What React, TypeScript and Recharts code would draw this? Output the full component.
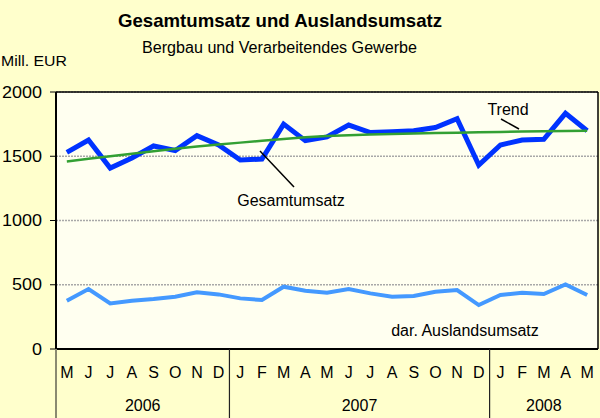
import React from 'react';
import { LineChart, Line, XAxis, YAxis, CartesianGrid, ReferenceLine } from 'recharts';

const months = [
  '2006-05', '2006-06', '2006-07', '2006-08', '2006-09', '2006-10', '2006-11', '2006-12',
  '2007-01', '2007-02', '2007-03', '2007-04', '2007-05', '2007-06', '2007-07', '2007-08',
  '2007-09', '2007-10', '2007-11', '2007-12',
  '2008-01', '2008-02', '2008-03', '2008-04', '2008-05',
];
const monthLetters = ['M', 'J', 'J', 'A', 'S', 'O', 'N', 'D', 'J', 'F', 'M', 'A', 'M', 'J', 'J', 'A', 'S', 'O', 'N', 'D', 'J', 'F', 'M', 'A', 'M'];
const yearOfMonth = ['2006', '2006', '2006', '2006', '2006', '2006', '2006', '2006',
  '2007', '2007', '2007', '2007', '2007', '2007', '2007', '2007', '2007', '2007', '2007', '2007',
  '2008', '2008', '2008', '2008', '2008'];
const gesamtumsatz = [1530, 1626, 1408, 1487, 1580, 1545, 1660, 1588, 1471, 1478, 1750, 1621, 1650, 1743, 1684, 1691, 1699, 1724, 1793, 1432, 1588, 1626, 1632, 1834, 1699];
const auslandsumsatz = [376, 467, 355, 376, 389, 407, 441, 425, 394, 381, 485, 454, 438, 467, 433, 407, 412, 446, 459, 342, 420, 438, 428, 503, 420];
const trend = [1460, 1480, 1500, 1520, 1539, 1558, 1576, 1592, 1606, 1620, 1634, 1647, 1658, 1664, 1669, 1673, 1677, 1680, 1683, 1686, 1689, 1692, 1695, 1697, 1699];
const yTicks = [0, 500, 1000, 1500, 2000];

const data = months.map((m, i) => ({
  month: m,
  gesamt: gesamtumsatz[i],
  ausland: auslandsumsatz[i],
  trend: trend[i],
}));

const FONT = '"Liberation Sans", Arial, sans-serif';

const MonthTick = (props: any) => {
  const { x, y, payload } = props;
  const idx = months.indexOf(payload.value);
  const off = payload.offset ?? 0;
  const year = yearOfMonth[idx];
  const isStart = idx === 0 || yearOfMonth[idx - 1] !== year;
  const count = yearOfMonth.filter((yy) => yy === year).length;
  const start = x - off;
  return (
    <g>
      <text x={x} y={y + 29} textAnchor="middle" fontSize={16} fontFamily={FONT} fill="#000">
        {monthLetters[idx]}
      </text>
      {isStart && (
        <line x1={start} y1={y} x2={start} y2={y + 69} stroke={idx === 0 ? '#8a8a70' : '#222'} strokeWidth={idx === 0 ? 2 : 1.2} />
      )}
      {isStart && (
        <text x={start + count * off} y={y + 62} textAnchor="middle" fontSize={16} fontFamily={FONT} fill="#000">
          {year}
        </text>
      )}
    </g>
  );
};

const ValueTick = (props: any) => {
  const { x, y, payload } = props;
  const label = String(payload.value);
  return (
    <text x={x} y={y} dy="0.355em" textAnchor="end" fontSize={16} fontFamily={FONT} fill="#000"
      textLength={label.length * 10} lengthAdjust="spacingAndGlyphs">
      {label}
    </text>
  );
};

export default function App() {
  return (
    <div style={{ position: 'absolute', left: 0, top: 0, width: 600, height: 418, background: '#FFFFCC', fontFamily: FONT, overflow: 'hidden' }}>
      <LineChart width={600} height={418} data={data} margin={{ top: 92, right: 2, bottom: 0, left: 0 }}>
        <CartesianGrid vertical={false} horizontal={true} fill="#FFFFF0" fillOpacity={1} stroke="#a8a8a8" strokeDasharray="2 1" strokeWidth={1.5} />
        <XAxis
          dataKey="month"
          scale="band"
          interval={0}
          height={69}
          tickSize={0}
          tickMargin={0}
          tickLine={false}
          axisLine={{ stroke: '#000', strokeWidth: 2 }}
          tick={<MonthTick />}
        />
        <YAxis
          type="number"
          domain={[0, 2000]}
          ticks={yTicks}
          width={56}
          tickSize={6}
          tickMargin={8}
          axisLine={{ stroke: '#000', strokeWidth: 2 }}
          tickLine={{ stroke: '#000' }}
          tick={<ValueTick />}
        />
        <ReferenceLine y={2000} stroke="#000" strokeWidth={1.5} />
        <ReferenceLine x={months[months.length - 1]} position="end" stroke="#000" strokeWidth={1.5} />
        <Line type="linear" dataKey="ausland" stroke="#4499ff" strokeWidth={4} dot={false} isAnimationActive={false} />
        <Line type="linear" dataKey="gesamt" stroke="#0033ff" strokeWidth={5} dot={false} isAnimationActive={false} />
        <Line type="linear" dataKey="trend" stroke="#33a033" strokeWidth={2.5} dot={false} isAnimationActive={false} />
      </LineChart>
      <svg width={600} height={418} style={{ position: 'absolute', left: 0, top: 0, pointerEvents: 'none' }}>
        <text x={280} y={27} textAnchor="middle" fontSize={18.5} fontWeight="bold" fontFamily={FONT} fill="#000"
          textLength={324} lengthAdjust="spacingAndGlyphs">
          Gesamtumsatz und Auslandsumsatz
        </text>
        <text x={279.5} y={53} textAnchor="middle" fontSize={16} fontFamily={FONT} fill="#000"
          textLength={275} lengthAdjust="spacingAndGlyphs">
          Bergbau und Verarbeitendes Gewerbe
        </text>
        <text x={1} y={66} textAnchor="start" fontSize={15.5} fontFamily={FONT} fill="#000"
          textLength={66} lengthAdjust="spacingAndGlyphs">
          Mill. EUR
        </text>
        <text x={508} y={115} textAnchor="middle" fontSize={16} fontFamily={FONT} fill="#000">
          Trend
        </text>
        <line x1={501} y1={119} x2={519} y2={129} stroke="#000" strokeWidth={1.5} />
        <text x={291} y={206} textAnchor="middle" fontSize={16} fontFamily={FONT} fill="#000">
          Gesamtumsatz
        </text>
        <line x1={260} y1={151} x2={294} y2={187} stroke="#000" strokeWidth={1.5} />
        <text x={465} y={336} textAnchor="middle" fontSize={16} fontFamily={FONT} fill="#000">
          dar. Auslandsumsatz
        </text>
      </svg>
    </div>
  );
}
